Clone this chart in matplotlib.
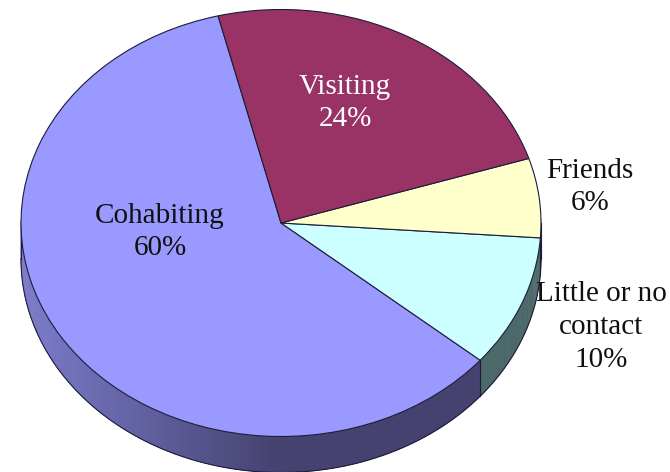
import numpy as np
import matplotlib
matplotlib.use("Agg")
import matplotlib.pyplot as plt
from matplotlib.colors import to_rgb

# Arrangement counts in percent, in counter-clockwise drawing order
categories = ["Cohabiting", "Little or no\ncontact", "Friends", "Visiting"]
values = [60, 10, 6, 24]
face_colors = ["#9999FF", "#CCFFFF", "#FFFFCC", "#993366"]
label_colors = ["#101010", "#101010", "#101010", "#FFFFFF"]
label_pixels = [(160, 232), (601, 327), (590, 187), (345, 103)]
wall_light = ["#7C7CCB", "#5A7A7A", "#8A8A66", "#6B2447"]
wall_dark = ["#45426F", "#4C6868", "#6F6F52", "#4D1A33"]

W, H = 670, 472
CX, CY, RX, RY = 281.0, 223.0, 260.0, 213.5
DEPTH = 36.0 / RY
START = 104.0

plt.rcParams["font.family"] = ["Liberation Serif", "DejaVu Serif"]
fig = plt.figure(figsize=(W / 100, H / 100), dpi=100, facecolor="white")
ax = fig.add_axes([0, 0, 1, 1])

# Top face: a unit pie, flattened into an ellipse by the non-square axis limits
ax.pie(values, colors=face_colors, startangle=START, radius=1.0, center=(0, 0),
       wedgeprops=dict(edgecolor="#1c1c3a", linewidth=0.8, zorder=5))
ax.set_aspect("auto")
ax.set_xlim((0 - CX) / RX, (W - CX) / RX)
ax.set_ylim((CY - H) / RY, (CY - 0) / RY)
ax.axis("off")


def blend(a, b, t):
    a, b = np.array(to_rgb(a)), np.array(to_rgb(b))
    return tuple(a + (b - a) * t)


# Side wall: thin shaded strips along the front half of each slice's rim
edges = START + np.cumsum([0] + values) * 3.6
for i in range(len(values)):
    a0, a1 = edges[i], edges[i + 1]
    steps = np.arange(a0, a1, 1.0)
    for s in steps:
        t0, t1 = s, min(s + 1.2, a1)
        sin_mid = np.sin(np.radians((t0 + t1) / 2))
        if sin_mid >= 0.02:
            continue
        # shade darkens from the left rim toward the front of the pie
        cos_mid = np.cos(np.radians((t0 + t1) / 2))
        shade = np.clip(1 - (-cos_mid) * 1.0, 0, 1) if cos_mid < 0 else 1.0
        col = blend(wall_light[i], wall_dark[i], shade)
        th = np.radians(np.linspace(t0, t1, 4))
        x = np.cos(th)
        y = np.sin(th)
        ax.fill(np.r_[x, x[::-1]], np.r_[y, y[::-1] - DEPTH], color=col, lw=0.3, zorder=2)

# Dark outline along the wall's lower rim and the vertical slice seams
th = np.radians(np.linspace(180, 360, 240))
ax.plot(np.cos(th), np.sin(th) - DEPTH, color="#1c1c3a", lw=0.8, zorder=3)
ax.plot([-1, -1], [0, -DEPTH], color="#1c1c3a", lw=0.8, zorder=3)
ax.plot([1, 1], [0, -DEPTH], color="#1c1c3a", lw=0.8, zorder=3)
for e in edges:
    if np.sin(np.radians(e)) < 0:
        ex, ey = np.cos(np.radians(e)), np.sin(np.radians(e))
        ax.plot([ex, ex], [ey, ey - DEPTH], color="#1c1c3a", lw=0.8, zorder=3)

# Slice labels
for name, val, col, (px, py) in zip(categories, values, label_colors, label_pixels):
    ax.text(px / W, 1 - py / H, f"{name}\n{val}%", transform=fig.transFigure,
            ha="center", va="center", ma="center", fontsize=21, color=col,
            linespacing=1.34, zorder=10)

fig.savefig("out.png", dpi=100, facecolor="white")
